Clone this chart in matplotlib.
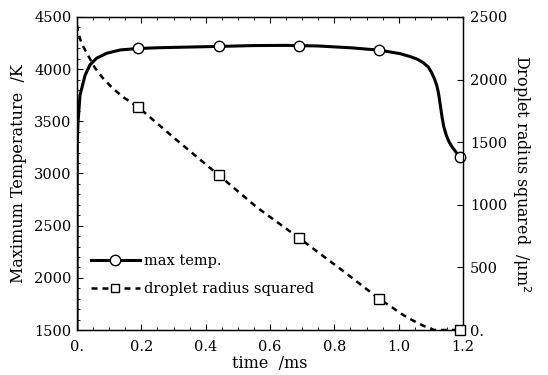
import matplotlib
matplotlib.use("Agg")
import matplotlib.pyplot as plt
from matplotlib.ticker import MultipleLocator

# ---- data ----
t_temp = [0.0, 0.0005, 0.001, 0.003, 0.0093, 0.025, 0.04, 0.061, 0.092, 0.134,
          0.19, 0.25, 0.32, 0.44, 0.55, 0.65, 0.75, 0.85, 0.94, 0.973, 1.005,
          1.035, 1.058, 1.076, 1.092, 1.103, 1.112, 1.118, 1.122, 1.126, 1.13,
          1.135, 1.14, 1.148, 1.157, 1.167, 1.178, 1.19]
temp = [1500, 2800, 3300, 3480, 3750, 3940, 4040, 4105, 4152, 4184,
        4198, 4205, 4210, 4218, 4226, 4228, 4222, 4205, 4182, 4165, 4148,
        4121, 4095, 4063, 4020, 3962, 3900, 3846, 3795, 3725, 3640,
        3535, 3450, 3365, 3300, 3250, 3205, 3158]
t_mark = [0.19, 0.44, 0.69, 0.94, 1.19]
temp_mark = [4198, 4218, 4226, 4182, 3155]

t_rad = [0.0, 0.003, 0.009, 0.017, 0.028, 0.056, 0.08, 0.11, 0.143, 0.19, 0.3,
         0.44, 0.56, 0.69, 0.82, 0.94, 0.98, 1.004, 1.03, 1.06, 1.08, 1.097,
         1.11, 1.19]
rad2 = [2436, 2390, 2330, 2275, 2223, 2093, 2013, 1933, 1861, 1781, 1538,
        1238, 978, 735, 485, 248, 180, 136, 95, 55, 30, 14,
        0, 0]
rad2_mark = [1781, 1238, 735, 248, 0]

x_ticks = [0.0, 0.2, 0.4, 0.6, 0.8, 1.0, 1.2]
x_labels = ["0.", "0.2", "0.4", "0.6", "0.8", "1.0", "1.2"]
y_ticks = [1500, 2000, 2500, 3000, 3500, 4000, 4500]
y2_ticks = [0, 500, 1000, 1500, 2000, 2500]
y2_labels = ["0.", "500", "1000", "1500", "2000", "2500"]

plt.rcParams['font.family'] = ['DejaVu Serif']
plt.rcParams['font.size'] = 10.5

fig = plt.figure(figsize=(5.48, 3.75), dpi=100)
ax = fig.add_axes([0.1405, 0.12, 0.7045, 0.8347])
ax2 = ax.twinx()

ax.plot(t_temp, temp, color='black', lw=2.2, zorder=3,
        solid_joinstyle='round', solid_capstyle='butt')
ax.plot(t_mark, temp_mark, linestyle='none', marker='o', ms=7.5, mfc='white',
        mec='black', mew=1.0, zorder=4, clip_on=False)

ax2.plot(t_rad, rad2, color='black', lw=1.8, dashes=(2.4, 2.0), zorder=3)
ax2.plot(t_mark, rad2_mark, linestyle='none', marker='s', ms=6.5, mfc='white',
         mec='black', mew=1.0, zorder=4, clip_on=False)

ax.set_xlim(0, 1.2)
ax.set_ylim(1500, 4500)
ax2.set_ylim(0, 2500)

ax.set_xticks(x_ticks)
ax.set_xticklabels(x_labels)
ax.xaxis.set_minor_locator(MultipleLocator(0.05))
ax.set_yticks(y_ticks)
ax.yaxis.set_minor_locator(MultipleLocator(100))
ax2.set_yticks(y2_ticks)
ax2.set_yticklabels(y2_labels)

ax.tick_params(axis='x', which='both', direction='in', top=True, pad=7)
ax.tick_params(axis='x', which='major', length=4)
ax.tick_params(axis='x', which='minor', length=2.5)
ax.tick_params(axis='y', which='both', direction='in', right=False)
ax.tick_params(axis='y', which='major', length=4, pad=4)
ax.tick_params(axis='y', which='minor', length=2)
ax2.tick_params(axis='y', direction='in', length=4, pad=5)

for a in (ax, ax2):
    for s in a.spines.values():
        s.set_linewidth(0.9)

ax.set_xlabel("time  /ms", labelpad=1, fontsize=11.5)
ax.set_ylabel("Maximum Temperature  /K", labelpad=5, fontsize=11.5)
ax2.set_ylabel("Droplet radius squared  /\u03bcm$^2$", rotation=270,
               labelpad=18, fontsize=11.5)

h1, = ax.plot([], [], color='black', lw=2.2, marker='o', ms=7.5, mfc='white',
              mec='black', mew=1.0)
h2, = ax.plot([], [], color='black', lw=1.8, dashes=(2.4, 2.0), marker='s', ms=5.5,
              mfc='white', mec='black', mew=1.0)
ax.legend([h1, h2], ["max temp.", "droplet radius squared"], loc='lower left',
          bbox_to_anchor=(0.02, 0.09), frameon=False, handlelength=3.4,
          handletextpad=0.25, labelspacing=0.95, borderaxespad=0, fontsize=10.5)

fig.savefig("out.png", dpi=100)
